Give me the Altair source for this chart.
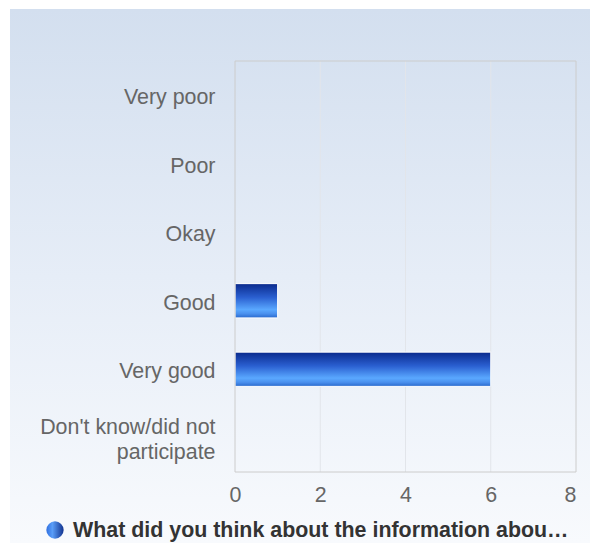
import altair as alt
import pandas as pd

categories = ["Very poor", "Poor", "Okay", "Good", "Very good",
              "Don't know/did not participate"]
values = [0, 0, 0, 1, 6, 0]
x_ticks = [0, 2, 4, 6, 8]
grid_ticks = [2, 4, 6]
legend_label = "What did you think about the information abou\u2026"

bars_df = pd.DataFrame({"category": categories, "value": values})
grid_df = pd.DataFrame({"tick": grid_ticks})

W, H = 341, 411
FONT = "Liberation Sans"
FS = 21.4

bar_grad = alt.Gradient(
    gradient="linear", x1=0, x2=0, y1=0, y2=1,
    stops=[
        alt.GradientStop(color="#0a2a8c", offset=0),
        alt.GradientStop(color="#2a5fd0", offset=0.4),
        alt.GradientStop(color="#5aa8ff", offset=0.76),
        alt.GradientStop(color="#4a90ee", offset=0.88),
        alt.GradientStop(color="#2868cc", offset=1),
    ],
)
bg_grad = alt.Gradient(
    gradient="linear", x1=0, x2=0, y1=0, y2=1,
    stops=[
        alt.GradientStop(color="#d3dfef", offset=0),
        alt.GradientStop(color="#e6edf7", offset=0.5),
        alt.GradientStop(color="#f8fafd", offset=1),
    ],
)
dot_grad = alt.Gradient(
    gradient="linear", x1=0, x2=1, y1=0, y2=0,
    stops=[
        alt.GradientStop(color="#2f6fe0", offset=0),
        alt.GradientStop(color="#5a9ef8", offset=0.35),
        alt.GradientStop(color="#12338f", offset=1),
    ],
)

xscale = alt.Scale(domain=[0, 8], nice=False, zero=True)
yscale = alt.Scale(domain=categories, paddingInner=0.5, paddingOuter=0.25)

background = alt.Chart(alt.Data(values=[{}])).mark_rect(
    fill=bg_grad, clip=False
).encode(
    x=alt.value(-225), x2=alt.value(355),
    y=alt.value(-52), y2=alt.value(482),
)

grid = alt.Chart(grid_df).mark_rule(color="#e2e5ea", strokeWidth=1).encode(
    x=alt.X("tick:Q", scale=xscale)
)

bars = alt.Chart(bars_df).transform_filter("datum.value > 0").mark_bar(
    fill=bar_grad, stroke="white", strokeWidth=1
).encode(
    x=alt.X("value:Q", scale=xscale, title=None,
            axis=alt.Axis(values=x_ticks, grid=False, ticks=False, domain=False,
                          labelFont=FONT, labelFontSize=FS, labelColor="#666666",
                          labelPadding=12, zindex=1, labelFlush=False,
                          labelAlign={"condition": {"test": "datum.value == 8", "value": "right"},
                                      "value": "center"})),
    y=alt.Y("category:N", scale=yscale, sort=categories, title=None,
            axis=alt.Axis(ticks=False, domain=False, labelFont=FONT,
                          labelFontSize=FS, labelColor="#666666",
                          labelPadding=20, labelLimit=400, zindex=1,
                          labelLineHeight=25,
                          labelOffset={"condition": {"test": "indexof(datum.value, 'participate') >= 0",
                                                     "value": -10},
                                       "value": 3},
                          labelExpr="split(replace(datum.label, 'not participate', 'not|participate'), '|')")),
)

frame = alt.Chart(alt.Data(values=[{}])).mark_rect(
    fill="transparent", stroke="#cccccc", strokeWidth=1
).encode(x=alt.value(0), x2=alt.value(W), y=alt.value(0), y2=alt.value(H))

legend_dot = alt.Chart(alt.Data(values=[{}])).mark_point(
    shape="circle", filled=True, fill=dot_grad, size=300, opacity=1, clip=False
).encode(x=alt.value(-180), y=alt.value(469))

legend_text = alt.Chart(alt.Data(values=[{"t": legend_label}])).mark_text(
    align="left", baseline="alphabetic", font=FONT, fontSize=FS,
    fontWeight="bold", color="#333333", clip=False
).encode(x=alt.value(-162), y=alt.value(476), text="t:N")

chart = alt.layer(background, grid, bars, frame, legend_dot, legend_text).properties(
    width=W, height=H,
    autosize=alt.AutoSizeParams(type="none"),
    padding={"left": 227, "top": 53, "right": 14, "bottom": 71},
    background="white",
).configure_view(stroke=None)

chart.save("out.html", embed_options={"renderer": "svg", "actions": False})
